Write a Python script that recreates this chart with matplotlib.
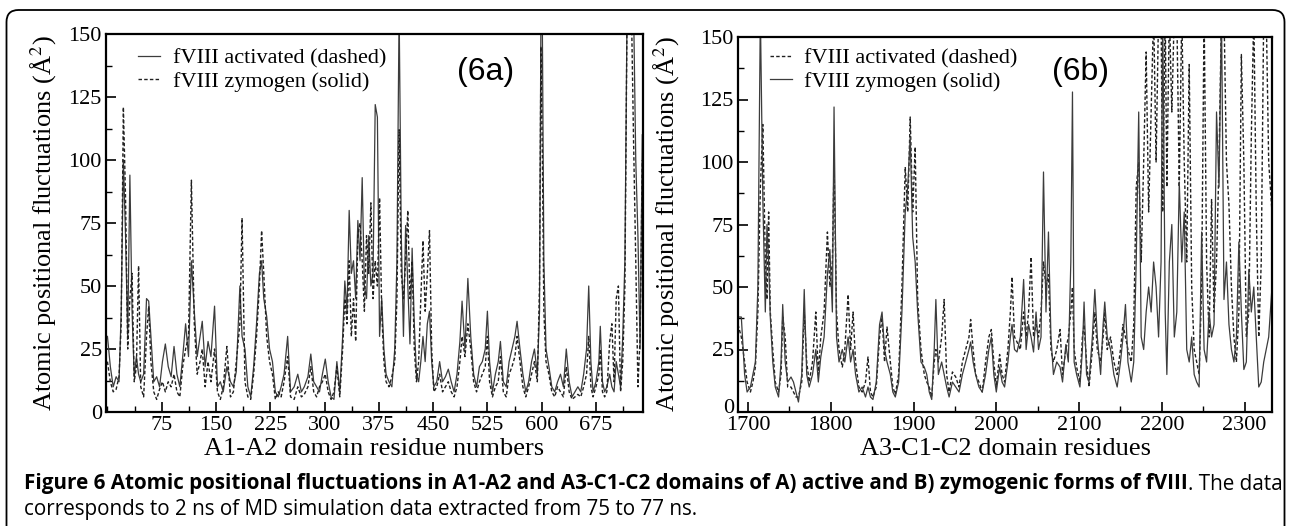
import matplotlib
matplotlib.use('Agg')
import matplotlib.pyplot as plt
from matplotlib.ticker import MultipleLocator
from matplotlib.patches import FancyBboxPatch
from matplotlib.transforms import IdentityTransform, ScaledTranslation

plt.rcParams['font.family'] = 'Liberation Serif'
plt.rcParams['mathtext.fontset'] = 'stix'

# ---- Panel (6a): A1-A2, residuos ----
res_a = [0, 4, 8, 12, 16, 19, 22, 25, 28, 31,
         34, 37, 40, 43, 46, 50, 54, 57, 60, 64,
         68, 72, 76, 80, 84, 88, 92, 96, 100, 104,
         108, 112, 116, 120, 124, 128, 131, 135, 139, 143,
         148, 152, 156, 160, 165, 170, 174, 178, 183, 186,
         190, 194, 198, 202, 206, 210, 213, 216, 220, 224,
         228, 232, 236, 240, 244, 249, 253, 258, 263, 268,
         272, 277, 281, 285, 289, 293, 297, 301, 305, 309,
         313, 317, 321, 325, 328, 331, 334, 337, 340, 343,
         346, 349, 352, 355, 358, 361, 364, 367, 370, 373,
         376, 379, 382, 385, 389, 393, 397, 400, 403, 406,
         409, 412, 415, 418, 421, 424, 427, 430, 433, 436,
         439, 442, 445, 448, 451, 455, 459, 463, 467, 471,
         475, 479, 483, 487, 490, 494, 498, 502, 506, 510,
         514, 518, 522, 525, 528, 532, 536, 540, 543, 547,
         551, 555, 559, 563, 566, 570, 574, 578, 582, 586,
         590, 594, 597, 599, 601, 603, 606, 610, 614, 618,
         622, 626, 630, 634, 638, 642, 646, 650, 654, 658,
         662, 665, 668, 671, 675, 679, 681, 684, 687, 690,
         694, 697, 700, 703, 706, 709, 712, 715, 718, 721,
         724, 727, 730, 733, 736, 739]
# linea continua
solida_a = [30, 18, 10, 14, 12, 40, 100, 70, 30, 94,
            40, 14, 22, 15, 12, 15, 45, 44, 30, 12,
            14, 10, 20, 27, 18, 14, 26, 15, 10, 22,
            35, 22, 60, 40, 22, 30, 36, 18, 28, 22,
            42, 10, 12, 8, 18, 12, 10, 16, 50, 30,
            25, 10, 6, 18, 35, 55, 60, 45, 38, 25,
            20, 8, 6, 10, 15, 30, 8, 10, 15, 8,
            10, 14, 23, 12, 10, 8, 15, 21, 12, 6,
            5, 20, 8, 30, 52, 40, 80, 55, 60, 45,
            76, 60, 93, 50, 45, 70, 50, 55, 122, 117,
            30, 45, 25, 15, 12, 10, 25, 60, 160, 70,
            30, 74, 50, 27, 65, 35, 15, 12, 20, 30,
            20, 35, 40, 20, 10, 12, 20, 12, 14, 17,
            12, 8, 15, 28, 44, 25, 53, 30, 15, 10,
            18, 20, 25, 40, 20, 8, 15, 20, 28, 12,
            10, 20, 25, 30, 36, 25, 15, 8, 12, 20,
            25, 15, 40, 160, 150, 60, 25, 18, 10, 8,
            12, 15, 10, 25, 12, 6, 8, 10, 8, 15,
            25, 50, 20, 8, 12, 20, 34, 12, 8, 10,
            15, 10, 8, 20, 15, 10, 30, 60, 160, 160,
            160, 160, 100, 70, 25, 110]
# linea discontinua
trazos_a = [20, 12, 8, 9, 14, 35, 121, 85, 25, 45,
            55, 12, 18, 58, 10, 6, 30, 42, 20, 8,
            5, 9, 12, 8, 12, 10, 15, 8, 6, 18,
            25, 30, 92, 35, 15, 20, 25, 10, 20, 12,
            25, 8, 5, 10, 26, 6, 8, 20, 35, 77,
            12, 6, 5, 15, 30, 50, 72, 55, 30, 20,
            15, 5, 8, 6, 12, 22, 6, 5, 10, 6,
            7, 10, 18, 8, 6, 10, 12, 15, 8, 5,
            8, 18, 6, 25, 45, 35, 60, 30, 45, 28,
            70, 75, 60, 40, 70, 55, 83, 45, 60, 50,
            85, 40, 20, 12, 10, 14, 20, 45, 112, 55,
            45, 60, 80, 45, 60, 25, 12, 20, 45, 68,
            40, 55, 72, 25, 8, 10, 15, 8, 10, 12,
            8, 6, 10, 20, 30, 22, 35, 25, 12, 8,
            12, 15, 18, 30, 12, 6, 10, 12, 22, 8,
            6, 15, 18, 22, 30, 20, 10, 6, 10, 15,
            20, 12, 50, 145, 100, 40, 20, 15, 8, 6,
            10, 8, 6, 18, 8, 5, 6, 7, 6, 10,
            15, 30, 10, 6, 10, 15, 25, 8, 6, 8,
            28, 35, 12, 45, 50, 8, 20, 50, 160, 160,
            160, 107, 60, 10, 30, 100]

# ---- Panel (6b): A3-C1-C2 ----
res_b = [1688, 1692, 1696, 1699, 1703, 1706, 1709, 1712, 1715, 1718,
         1721, 1723, 1725, 1727, 1730, 1733, 1737, 1740, 1742, 1745,
         1748, 1752, 1755, 1758, 1761, 1765, 1768, 1771, 1774, 1778,
         1782, 1785, 1788, 1792, 1796, 1799, 1802, 1804, 1807, 1810,
         1814, 1817, 1821, 1824, 1827, 1830, 1834, 1838, 1842, 1845,
         1848, 1851, 1855, 1859, 1862, 1865, 1868, 1872, 1875, 1878,
         1882, 1886, 1890, 1893, 1896, 1899, 1902, 1905, 1909, 1913,
         1916, 1919, 1922, 1925, 1927, 1930, 1934, 1937, 1940, 1943,
         1947, 1951, 1955, 1959, 1963, 1967, 1969, 1972, 1975, 1979,
         1983, 1987, 1991, 1994, 1997, 2000, 2004, 2007, 2010, 2014,
         2017, 2019, 2022, 2025, 2029, 2033, 2036, 2039, 2042, 2045,
         2048, 2051, 2054, 2057, 2060, 2063, 2066, 2069, 2073, 2077,
         2080, 2084, 2087, 2090, 2092, 2094, 2097, 2101, 2104, 2106,
         2109, 2112, 2116, 2119, 2122, 2126, 2129, 2131, 2134, 2138,
         2142, 2146, 2150, 2153, 2156, 2159, 2163, 2166, 2169, 2172,
         2175, 2178, 2181, 2184, 2187, 2190, 2193, 2196, 2199, 2201,
         2204, 2206, 2209, 2212, 2215, 2218, 2221, 2224, 2227, 2230,
         2233, 2236, 2239, 2242, 2245, 2248, 2251, 2254, 2257, 2260,
         2263, 2266, 2269, 2272, 2275, 2278, 2281, 2284, 2287, 2290,
         2293, 2296, 2299, 2302, 2305, 2308, 2311, 2314, 2317, 2320,
         2323, 2326, 2329, 2333]
solida_b = [38, 38, 15, 8, 10, 15, 20, 50, 160, 85,
            40, 75, 60, 38, 20, 10, 6, 20, 43, 20,
            12, 14, 12, 8, 4, 15, 49, 15, 10, 15,
            25, 12, 22, 30, 55, 65, 40, 122, 30, 20,
            25, 20, 30, 20, 25, 15, 8, 10, 6, 10,
            6, 5, 12, 35, 40, 25, 20, 15, 8, 6,
            12, 40, 80, 90, 110, 70, 60, 40, 20, 18,
            15, 8, 5, 25, 45, 15, 20, 15, 10, 6,
            12, 10, 8, 15, 20, 25, 28, 20, 15, 10,
            8, 15, 25, 30, 15, 8, 18, 12, 10, 20,
            30, 35, 25, 24, 30, 53, 25, 35, 30, 24,
            40, 25, 30, 96, 40, 72, 30, 15, 20, 18,
            12, 27, 20, 60, 128, 20, 15, 10, 25, 44,
            15, 12, 30, 49, 30, 15, 35, 44, 30, 25,
            15, 10, 20, 30, 43, 20, 12, 20, 60, 120,
            30, 25, 40, 50, 40, 60, 50, 30, 60, 160,
            40, 15, 60, 75, 30, 40, 92, 60, 80, 25,
            20, 30, 15, 12, 10, 72, 25, 20, 40, 30,
            35, 120, 90, 160, 45, 60, 35, 25, 20, 30,
            68, 40, 17, 20, 57, 40, 50, 30, 10, 12,
            20, 25, 30, 50]
trazos_b = [35, 30, 20, 12, 8, 12, 18, 40, 90, 115,
            60, 45, 80, 40, 25, 12, 8, 15, 38, 30,
            10, 10, 8, 6, 6, 12, 40, 20, 12, 20,
            40, 15, 30, 40, 72, 50, 60, 100, 40, 25,
            18, 25, 47, 25, 40, 20, 10, 8, 12, 22,
            8, 6, 10, 30, 38, 20, 34, 20, 10, 7,
            15, 50, 98, 80, 118, 80, 106, 45, 25, 15,
            12, 10, 6, 20, 25, 20, 30, 45, 15, 8,
            16, 14, 10, 20, 25, 30, 37, 25, 15, 12,
            8, 20, 30, 33, 20, 10, 23, 15, 12, 25,
            40, 54, 30, 28, 25, 40, 30, 40, 62, 30,
            35, 30, 40, 60, 50, 55, 25, 20, 25, 33,
            15, 25, 30, 40, 50, 25, 18, 12, 30, 35,
            20, 10, 25, 40, 25, 20, 30, 40, 25, 30,
            20, 15, 25, 35, 30, 25, 20, 35, 90, 100,
            60, 100, 144, 80, 120, 160, 100, 160, 160, 80,
            160, 90, 160, 120, 160, 160, 90, 160, 100, 60,
            139, 50, 25, 20, 15, 50, 160, 60, 30, 85,
            40, 60, 100, 160, 160, 100, 83, 50, 30, 20,
            40, 143, 100, 30, 40, 110, 160, 80, 30, 60,
            160, 160, 100, 80]

etiq_act = 'fVIII activated (dashed)'
etiq_zim = 'fVIII zymogen (solid)'
ylab = 'Atomic positional fluctuations (Å$^{2}$)'

W, H = 1290, 526
fig = plt.figure(figsize=(W/100, H/100), dpi=100)
ax_a = fig.add_axes([106/W, (H-412)/H, 537/W, 378/H])
ax_b = fig.add_axes([738/W, (H-412)/H, 534/W, 375/H])

col_sol = '#3c3c3c'
col_tr = '#202020'
trazo = (0, (2.5, 1.6))

def estilo(ax):
    for s in ax.spines.values():
        s.set_linewidth(1.6)
    ax.tick_params(which='both', direction='in', top=False, right=False,
                   labelsize=16, pad=3)
    ax.tick_params(which='major', length=7, width=1.2)
    ax.tick_params(which='minor', length=4, width=1.0)
    ax.set_ylim(0, 150)
    ax.yaxis.set_major_locator(MultipleLocator(25))
    ax.yaxis.set_minor_locator(MultipleLocator(12.5))
    ax.set_ylabel(ylab, fontsize=19)

# (6a)
ax_a.plot(res_a, solida_a, color=col_sol, lw=0.9, label=etiq_act)
ax_a.plot(res_a, trazos_a, color=col_tr, lw=1.0, ls=trazo, label=etiq_zim)
estilo(ax_a)
ax_a.set_xlim(-2, 740)
ax_a.set_xticks(range(75, 740, 75))
ax_a.xaxis.set_minor_locator(MultipleLocator(37.5))
ax_a.set_xlabel('A1-A2 domain residue numbers', fontsize=19, labelpad=2)
ax_a.yaxis.set_label_coords(-0.088, 0.5)
ax_a.legend(loc='upper left', bbox_to_anchor=(0.06, 0.962), frameon=False,
            fontsize=16, handlelength=1.0, handletextpad=0.55,
            labelspacing=0.1, borderpad=0, borderaxespad=0)

# (6b)
ax_b.plot(res_b, trazos_b, color=col_tr, lw=1.0, ls=trazo, label=etiq_act)
ax_b.plot(res_b, solida_b, color=col_sol, lw=0.9, label=etiq_zim)
estilo(ax_b)
ax_b.set_xlim(1688, 2333)
ax_b.xaxis.set_major_locator(MultipleLocator(100))
ax_b.xaxis.set_minor_locator(MultipleLocator(50))
ax_b.set_xlabel('A3-C1-C2 domain residues', fontsize=19, labelpad=2)
ax_b.yaxis.set_label_coords(-0.105, 0.5)
ax_b.legend(loc='upper left', bbox_to_anchor=(0.06, 0.97), frameon=False,
            fontsize=16, handlelength=1.0, handletextpad=0.55,
            labelspacing=0.1, borderpad=0, borderaxespad=0)

fig.text(486/W, 1-72/H, '(6a)', family='Liberation Sans', fontsize=23,
         ha='center', va='center')
fig.text(1080/W, 1-72/H, '(6b)', family='Liberation Sans', fontsize=23,
         ha='center', va='center')

# marco redondeado
marco = FancyBboxPatch((6.5, -30), 1278, 526-10+30,
                       boxstyle='round,pad=0,rounding_size=12',
                       transform=IdentityTransform(), fill=False,
                       lw=1.3, ec='black')
fig.patches.append(marco)

# pie de figura
txt_bold = ('Figure 6 Atomic positional fluctuations in A1-A2 and A3-C1-C2 '
            'domains of A) active and B) zymogenic forms of fVIII')
txt_norm = '. The data'
txt_l2 = 'corresponds to 2 ns of MD simulation data extracted from 75 to 77 ns.'

x0, x1 = 24, 1280
tam = 12
t1 = fig.text(x0/W, 1-484/H, txt_bold, family='Open Sans', weight='bold',
              fontsize=tam, va='center')
t2 = fig.text(0, 1-484/H, txt_norm, family='Open Sans', fontsize=tam,
              va='center')
fig.canvas.draw()
r = fig.canvas.get_renderer()
w1 = t1.get_window_extent(r).width
w2 = t2.get_window_extent(r).width
tam = tam*(x1-x0)/(w1+w2)
t1.set_fontsize(tam)
t2.set_fontsize(tam)
fig.canvas.draw()
w1 = t1.get_window_extent(r).width
t2.set_x((x0+w1)/W)
fig.text(x0/W, 1-510/H, txt_l2, family='Open Sans', fontsize=tam,
         va='center')

# el "0" del eje y de (6b) queda un poco por encima del "1700"
for et in ax_b.get_yticklabels():
    if et.get_text() == '0':
        et.set_transform(et.get_transform() +
                         ScaledTranslation(0, 4/72, fig.dpi_scale_trans))

fig.savefig('out.png', dpi=100)
